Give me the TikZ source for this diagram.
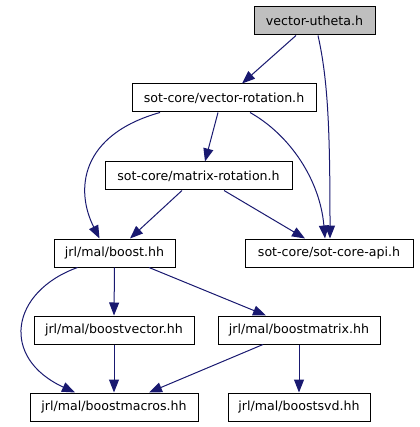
\documentclass[tikz,border=0pt]{standalone}
\usepackage{fontspec}
\setmainfont{DejaVu Sans}
\usetikzlibrary{arrows.meta}
\definecolor{edgecol}{HTML}{191970}
\definecolor{rootfill}{HTML}{BFBFBF}
\tikzset{
  filebox/.style={draw=black, line width=1pt, fill=white, minimum height=28pt, inner sep=0pt,
    font=\fontsize{12.6}{14}\selectfont, text=black},
  dep/.style={draw=edgecol, line width=1pt, -{Triangle[length=13pt,width=10pt]}},
}
\begin{document}
\begin{tikzpicture}[x=1pt,y=-1pt]
\useasboundingbox (0,0) rectangle (419,427);
\node[filebox, fill=rootfill, minimum width=121pt] (ut) at (314.5,21) {vector-utheta.h};
\node[filebox, minimum width=184pt] (vr) at (224,98) {sot-core/vector-rotation.h};
\node[filebox, minimum width=187pt] (mr) at (198.5,176) {sot-core/matrix-rotation.h};
\node[filebox, minimum width=121pt] (bo) at (114.5,253) {jrl/mal/boost.hh};
\node[filebox, minimum width=168pt] (api) at (329,253) {sot-core/sot-core-api.h};
\node[filebox, minimum width=160pt] (bv) at (114,330) {jrl/mal/boostvector.hh};
\node[filebox, minimum width=162pt] (bm) at (299,330) {jrl/mal/boostmatrix.hh};
\node[filebox, minimum width=168pt] (mac) at (114,407) {jrl/mal/boostmacros.hh};
\node[filebox, minimum width=142pt] (svd) at (299,407) {jrl/mal/boostsvd.hh};

\draw[dep] ([xshift=-18.5pt]ut.south) -- ([xshift=18pt]vr.north);
\draw[dep] ([xshift=3.5pt]ut.south) .. controls (328,80) and (330,130) .. ([xshift=1pt]api.north);
\draw[dep] ([xshift=-64pt]vr.south) .. controls (80,135) and (75,190) .. ([xshift=-15pt]bo.north);
\draw[dep] ([xshift=-6pt]vr.south) -- ([xshift=6.5pt]mr.north);
\draw[dep] ([xshift=26pt]vr.south) .. controls (290,135) and (320,180) .. ([xshift=-4pt]api.north);
\draw[dep] ([xshift=-16.5pt]mr.south) -- ([xshift=15.5pt]bo.north);
\draw[dep] ([xshift=25.5pt]mr.south) -- ([xshift=-24pt]api.north);
\draw[dep] ([xshift=-37pt]bo.south) .. controls (10,292) and (0,358) .. ([xshift=-39pt]mac.north);
\draw[dep] (bo.south) -- (bv.north);
\draw[dep] ([xshift=34.5pt]bo.south) -- ([xshift=-33pt]bm.north);
\draw[dep] (bv.south) -- (mac.north);
\draw[dep] ([xshift=-36pt]bm.south) -- ([xshift=35pt]mac.north);
\draw[dep] (bm.south) -- (svd.north);
\end{tikzpicture}
\end{document}
